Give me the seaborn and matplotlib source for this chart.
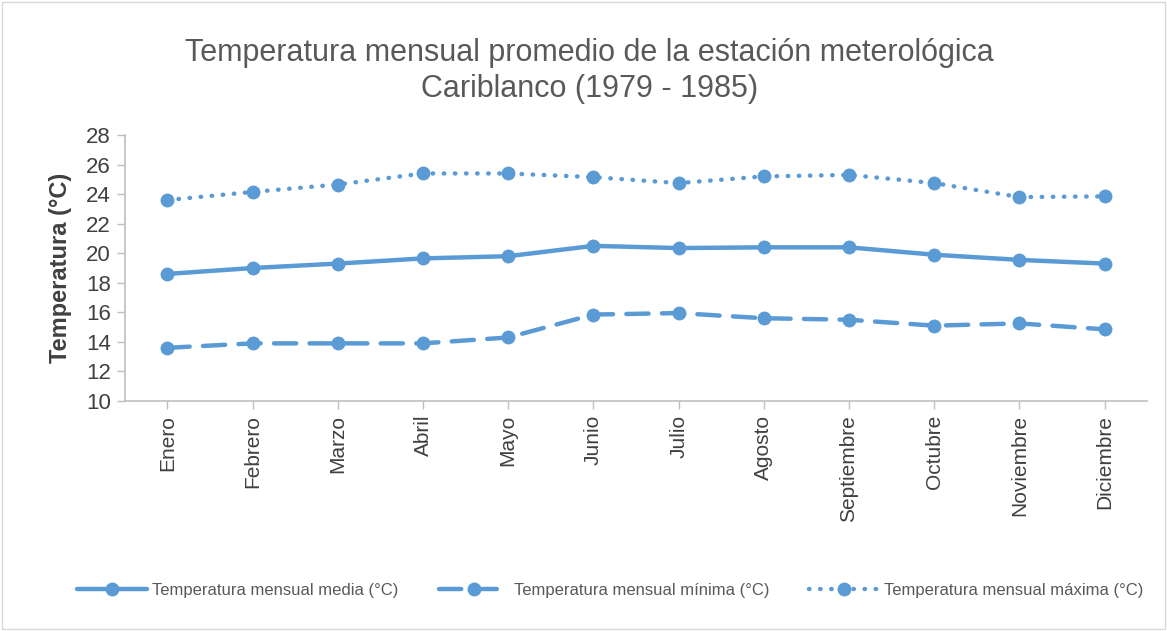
import pandas as pd
import matplotlib.pyplot as plt
import seaborn as sns
from matplotlib.patches import Rectangle

# Data
meses = ['Enero', 'Febrero', 'Marzo', 'Abril', 'Mayo', 'Junio', 'Julio',
         'Agosto', 'Septiembre', 'Octubre', 'Noviembre', 'Diciembre']
media = [18.6, 19.0, 19.3, 19.65, 19.8, 20.5, 20.35, 20.4, 20.4, 19.9, 19.55, 19.3]
minima = [13.6, 13.9, 13.9, 13.9, 14.3, 15.85, 15.95, 15.6, 15.5, 15.1, 15.25, 14.85]
maxima = [23.6, 24.15, 24.65, 25.4, 25.4, 25.15, 24.75, 25.2, 25.3, 24.75, 23.8, 23.85]

labels = ['Temperatura mensual media (°C)',
          'Temperatura mensual mínima (°C)',
          'Temperatura mensual máxima (°C)']

sns.set_style('white')
plt.rcParams['font.family'] = ['Liberation Sans', 'DejaVu Sans']

color = '#5B9BD5'
gray = '#595959'
dark = '#404040'

fig = plt.figure(figsize=(11.67, 6.31), dpi=100)
ax = fig.add_axes([0.107, 0.3645, 0.876, 0.4215])

styles = ['-', (0, (5, 3)), (0, (0.1, 2.4))]
for vals, lab, ls in zip([media, minima, maxima], labels, styles):
    sns.lineplot(x=meses, y=vals, ax=ax, sort=False, color=color, linewidth=3.2,
                 marker='o', markersize=10, markeredgewidth=0, label=lab,
                 linestyle=ls, dash_capstyle='round', solid_capstyle='round')

ax.set_ylim(10, 28)
ax.set_yticks(range(10, 29, 2))
ax.set_xlim(-0.5, len(meses) - 0.5)
ax.tick_params(axis='y', labelsize=16, length=6, width=1, direction='out', left=True, pad=4)
ax.tick_params(axis='x', labelsize=15, length=6, width=1, direction='out', bottom=True,
               rotation=90, pad=4)
ax.tick_params(colors='#bfbfbf', which='both')
for t in ax.get_yticklabels() + ax.get_xticklabels():
    t.set_color(dark)
ax.spines[['top', 'right']].set_visible(False)
for s in ['left', 'bottom']:
    ax.spines[s].set_color('#bfbfbf')
    ax.spines[s].set_linewidth(1.2)
ax.set_xlabel('')
ax.set_ylabel('Temperatura (°C)', fontsize=17, fontweight='bold', color=dark, labelpad=10)

fig.suptitle('Temperatura mensual promedio de la estación meterológica\nCariblanco (1979 - 1985)',
             fontsize=22, color=gray, y=0.94, x=0.505, linespacing=1.25)

handles, labs = ax.get_legend_handles_labels()
ax.get_legend().remove()
fig.legend(handles, labs, loc='center', bbox_to_anchor=(0.523, 0.064), ncol=3, frameon=False,
           fontsize=12, handlelength=4.2, columnspacing=2.4, handletextpad=0.3,
           labelcolor=gray)

fig.patches.append(Rectangle((0.002, 0.003), 0.996, 0.994, transform=fig.transFigure,
                             fill=False, edgecolor='#d9d9d9', linewidth=1))

fig.savefig('out.png', dpi=100)
